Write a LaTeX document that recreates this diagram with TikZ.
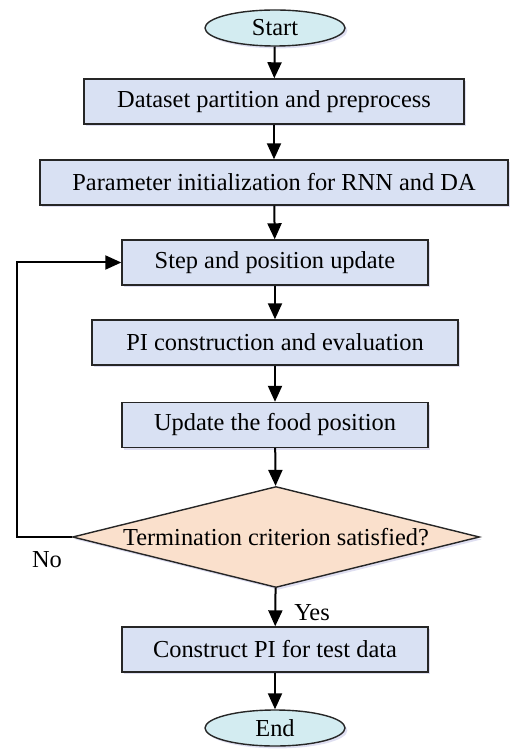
\documentclass[tikz,border=0pt]{standalone}
\usepackage{fontspec}
\setmainfont{Liberation Serif}
\usepackage{xcolor}
\usepackage{tikz}
\usetikzlibrary{positioning, shapes.geometric, arrows.meta, shadows}

\definecolor{boxfill}{HTML}{D9E1F3}
\definecolor{ovalfill}{HTML}{D3ECF1}
\definecolor{diafill}{HTML}{FAE0CC}

\begin{document}
\begin{tikzpicture}[x=0.5pt, y=-0.5pt, font=\fontsize{12.2}{14}\selectfont,
    soft/.style={drop shadow={shadow xshift=1.2pt, shadow yshift=-1.2pt, fill=blue!40!gray, opacity=0.18}},
    procbox/.style={draw=black!85, line width=0.7pt, fill=boxfill, soft, minimum height=22.5pt, align=center},
    endpt/.style={draw=black!85, line width=0.7pt, fill=ovalfill, ellipse, soft, minimum width=70pt, minimum height=18pt, inner sep=0pt},
    decide/.style={draw=black!85, line width=0.7pt, fill=diafill, diamond, soft, aspect=4, inner sep=0pt, minimum width=203.5pt, minimum height=50.5pt},
    flow/.style={line width=1pt, -{Triangle[length=8pt, width=7pt]}}]
      \useasboundingbox (0,0) rectangle (518,753);

      \node[endpt]                          (S)    at (275,  28)    {Start};
      \node[procbox, minimum width=190pt]   (DP)   at (274, 101.5)  {Dataset partition and preprocess};
      \node[procbox, minimum width=234pt]   (PI)   at (274, 182.5)  {Parameter initialization for RNN and DA};
      \node[procbox, minimum width=153pt]   (SP)   at (275, 262.5)  {Step and position update};
      \node[procbox, minimum width=183pt]   (PC)   at (275, 342.5)  {PI construction and evaluation};
      \node[procbox, minimum width=153pt]   (UF)   at (275, 425)    {Update the food position};
      \node[decide]                         (TC)   at (276, 537)    {Termination criterion satisfied?};
      \node[procbox, minimum width=153pt]   (CT)   at (275, 649.5)  {Construct PI for test data};
      \node[endpt]                          (E)    at (275, 728)    {End};

      \coordinate (loop) at (17, 537);
      \node (no)  at ( 47, 560) {No};
      \node (yes) at (312, 613) {Yes};

      \draw[flow] (S)  -- (DP);
      \draw[flow] (DP) -- (PI);
      \draw[flow] (PI) -- (SP);
      \draw[flow] (SP) -- (PC);
      \draw[flow] (PC) -- (UF);
      \draw[flow] (UF) -- (TC);
      \draw[flow] (TC) -- (CT);
      \draw[flow] (CT) -- (E);

      \draw[flow] (TC.west) -- (loop) |- (SP.west);
    \end{tikzpicture}
\end{document}
